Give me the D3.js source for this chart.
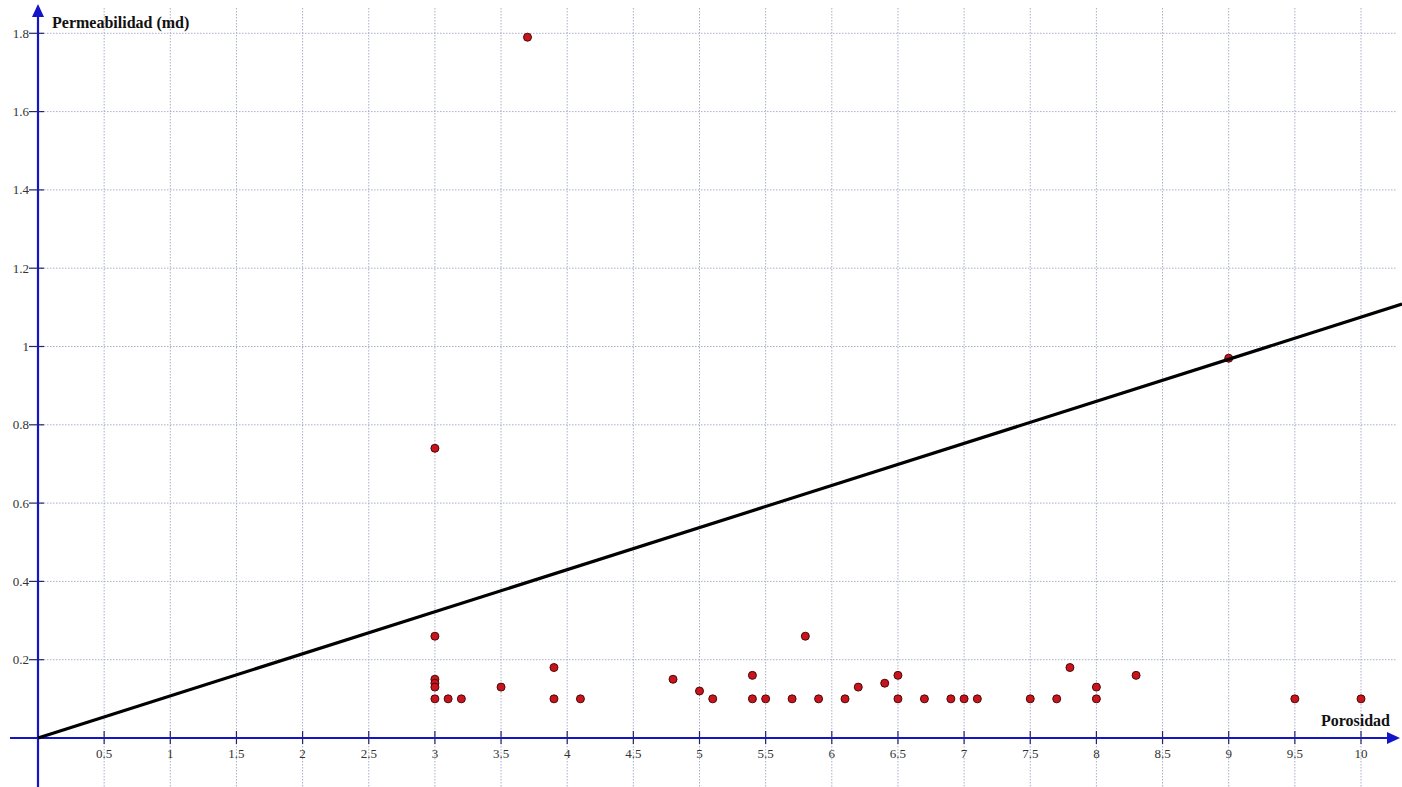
<!DOCTYPE html>
<html>
<head>
<meta charset="utf-8">
<script src="https://cdn.jsdelivr.net/npm/d3@7"></script>
<style>
html,body{margin:0;padding:0;background:#fff;}
svg{display:block;}
</style>
</head>
<body>
<svg id="chart" width="1402" height="787"></svg>
<script>
// Data
const porosidad = [3,3,3,3,3,3,3.1,3.2,3.5,3.7,3.9,3.9,4.1,4.8,5.0,5.1,5.4,5.4,5.5,5.7,5.8,5.9,6.1,6.2,6.4,6.5,6.5,6.7,6.9,7.0,7.1,7.5,7.7,7.8,8.0,8.0,8.3,9.0,9.5,10];
const permeabilidad = [0.74,0.26,0.15,0.14,0.13,0.10,0.10,0.10,0.13,1.79,0.18,0.10,0.10,0.15,0.12,0.10,0.16,0.10,0.10,0.10,0.26,0.10,0.10,0.13,0.14,0.16,0.10,0.10,0.10,0.10,0.10,0.10,0.10,0.18,0.13,0.10,0.16,0.97,0.10,0.10];
const xTicks = [0.5,1,1.5,2,2.5,3,3.5,4,4.5,5,5.5,6,6.5,7,7.5,8,8.5,9,9.5,10];
const yTicks = [0.2,0.4,0.6,0.8,1,1.2,1.4,1.6,1.8];
const trendSlope = 0.1075;
const xTitle = "Porosidad";
const yTitle = "Permeabilidad (md)";

const W = 1402, H = 787;
const svg = d3.select("#chart");
const x = d3.scaleLinear().domain([0, 10]).range([38, 1361]);
const y = d3.scaleLinear().domain([0, 1.8]).range([738, 33.3]);
const xMax = x.invert(W);

const gridColor = "#a9b0c8";
// vertical grid
svg.append("g").selectAll("line").data(xTicks).join("line")
  .attr("x1", d => x(d)).attr("x2", d => x(d))
  .attr("y1", 8).attr("y2", H)
  .attr("stroke", gridColor).attr("stroke-width", 1)
  .attr("stroke-dasharray", "1.5,1.5");
// horizontal grid
svg.append("g").selectAll("line").data(yTicks).join("line")
  .attr("x1", x(0)).attr("x2", 1396)
  .attr("y1", d => y(d)).attr("y2", d => y(d))
  .attr("stroke", gridColor).attr("stroke-width", 1)
  .attr("stroke-dasharray", "1.5,1.5");

const axisColor = "#1414c8";
const tickColor = "#242470";
// axes lines
svg.append("line").attr("x1", 10).attr("x2", 1390).attr("y1", y(0)).attr("y2", y(0))
  .attr("stroke", axisColor).attr("stroke-width", 2.2);
svg.append("line").attr("x1", x(0)).attr("x2", x(0)).attr("y1", 14).attr("y2", H)
  .attr("stroke", axisColor).attr("stroke-width", 2.2);
// arrows
svg.append("path").attr("d", `M${x(0)},4 L${x(0)-6},17 L${x(0)+6},17 Z`).attr("fill", axisColor);
svg.append("path").attr("d", `M1400,${y(0)} L1387,${y(0)-6} L1387,${y(0)+6} Z`).attr("fill", axisColor);

// x ticks
const xa = svg.append("g");
xa.selectAll("line").data(xTicks).join("line")
  .attr("x1", d => x(d)).attr("x2", d => x(d))
  .attr("y1", y(0) - 7).attr("y2", y(0) + 6)
  .attr("stroke", tickColor).attr("stroke-width", 1.2);
xa.selectAll("text").data(xTicks).join("text")
  .attr("x", d => x(d)).attr("y", 758)
  .attr("text-anchor", "middle")
  .attr("font-family", "Liberation Serif, Times New Roman, serif")
  .attr("font-size", 13).attr("fill", "#333")
  .text(d => d3.format("")(d));
// y ticks
const ya = svg.append("g");
ya.selectAll("line").data(yTicks).join("line")
  .attr("x1", x(0) - 9).attr("x2", x(0) + 6)
  .attr("y1", d => y(d)).attr("y2", d => y(d))
  .attr("stroke", tickColor).attr("stroke-width", 1.2);
ya.selectAll("text").data(yTicks).join("text")
  .attr("x", 29).attr("y", d => y(d) + 4.5)
  .attr("text-anchor", "end")
  .attr("font-family", "Liberation Serif, Times New Roman, serif")
  .attr("font-size", 13).attr("fill", "#333")
  .text(d => d3.format("")(d));

// titles
svg.append("text").attr("x", 52).attr("y", 28)
  .attr("font-family", "Liberation Serif, Times New Roman, serif")
  .attr("font-weight", "bold").attr("font-size", 16).attr("fill", "#111")
  .text(yTitle);
svg.append("text").attr("x", 1390).attr("y", 726).attr("text-anchor", "end")
  .attr("font-family", "Liberation Serif, Times New Roman, serif")
  .attr("font-weight", "bold").attr("font-size", 16).attr("fill", "#111")
  .text(xTitle);

// points
svg.append("g").selectAll("circle").data(porosidad.map((p, i) => [p, permeabilidad[i]])).join("circle")
  .attr("cx", d => x(d[0])).attr("cy", d => y(d[1]))
  .attr("r", 4).attr("fill", "#c8141c").attr("stroke", "#4a0a0a").attr("stroke-width", 1);

// trend line (drawn over the points)
const line = d3.line().x(d => x(d)).y(d => y(trendSlope * d));
svg.append("path").datum([0, xMax]).attr("d", line)
  .attr("fill", "none").attr("stroke", "#000").attr("stroke-width", 3.2);
</script>
</body>
</html>
